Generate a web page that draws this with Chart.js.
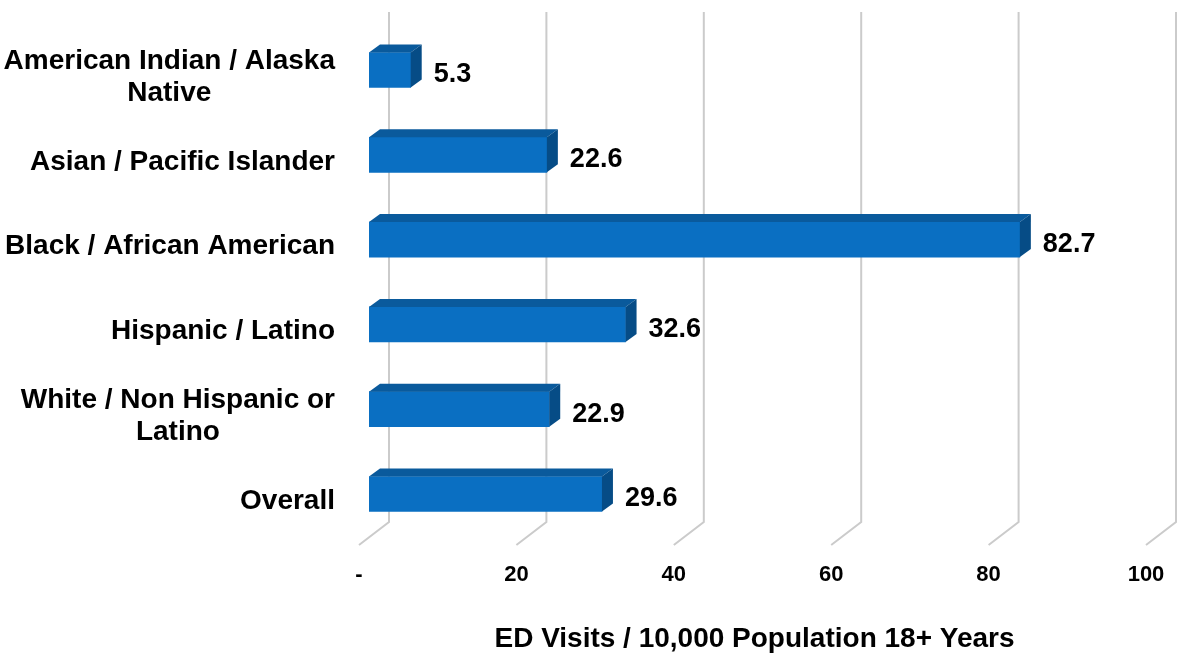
<!DOCTYPE html>
<html>
<head>
<meta charset="utf-8">
<script src="https://cdn.jsdelivr.net/npm/chart.js@4/dist/chart.umd.min.js"></script>
<style>
  html, body { margin: 0; padding: 0; background: #fff; }
  #wrap { width: 1177px; height: 656px; position: relative; }
</style>
</head>
<body>
<div id="wrap"><canvas id="myChart"></canvas></div>
<script>
const categories = [
  ["American Indian / Alaska", "Native"],
  ["Asian / Pacific Islander"],
  ["Black / African American"],
  ["Hispanic / Latino"],
  ["White / Non Hispanic or", "Latino"],
  ["Overall"],
];
const visits = [5.3, 22.6, 82.7, 32.6, 22.9, 29.6];
const xTicks = [0, 20, 40, 60, 80, 100];
const xTitle = "ED Visits / 10,000 Population 18+ Years";

const FONT = "'Liberation Sans', Arial, sans-serif";
const DEPTH_X = 11;
const DEPTH_Y = 8;

// back wall + floor lines, drawn under the bars
const gridPlugin = {
  id: "grid3d",
  beforeDatasetsDraw(chart) {
    const { ctx, scales } = chart;
    ctx.save();
    ctx.strokeStyle = "#cbcbcb";
    ctx.lineWidth = 2;
    xTicks.forEach((v) => {
      const px = scales.x.getPixelForValue(v);
      ctx.beginPath();
      ctx.moveTo(px + 20, 12);
      ctx.lineTo(px + 20, 522);
      ctx.lineTo(px - 10, 545);
      ctx.stroke();
    });
    ctx.restore();
  },
  afterDatasetsDraw(chart) {
    const { ctx } = chart;
    const meta = chart.getDatasetMeta(0);
    ctx.save();
    meta.data.forEach((bar, i) => {
      const { x, y, base, height } = bar.getProps(["x", "y", "base", "height"], true);
      const top = y - height / 2;
      const bottom = y + height / 2;
      // top face
      ctx.fillStyle = "#0a5a9c";
      ctx.beginPath();
      ctx.moveTo(base, top);
      ctx.lineTo(base + DEPTH_X, top - DEPTH_Y);
      ctx.lineTo(x + DEPTH_X, top - DEPTH_Y);
      ctx.lineTo(x, top);
      ctx.closePath();
      ctx.fill();
      // side face
      ctx.fillStyle = "#064c86";
      ctx.beginPath();
      ctx.moveTo(x, top);
      ctx.lineTo(x + DEPTH_X, top - DEPTH_Y);
      ctx.lineTo(x + DEPTH_X, bottom - DEPTH_Y);
      ctx.lineTo(x, bottom);
      ctx.closePath();
      ctx.fill();

      // value label
      ctx.fillStyle = "#000";
      ctx.font = "bold 27px " + FONT;
      ctx.textAlign = "left";
      ctx.textBaseline = "middle";
      ctx.fillText(visits[i].toFixed(1), x + 23, y + 5);
    });

    // category labels: block right-aligned, lines centred inside it
    const yScale = chart.scales.y;
    ctx.font = "bold 28px " + FONT;
    ctx.textAlign = "center";
    ctx.textBaseline = "middle";
    categories.forEach((lines, i) => {
      const cy = yScale.getPixelForValue(i) + 7;
      const w = Math.max(...lines.map((l) => ctx.measureText(l).width));
      const cx = 335 - w / 2;
      const lh = 32;
      lines.forEach((l, k) => {
        ctx.fillText(l, cx, cy + (k - (lines.length - 1) / 2) * lh);
      });
    });

    // axis title, centred under the floor of the plot
    const xs = chart.scales.x;
    ctx.fillText(xTitle, (xs.left + xs.right) / 2 - 8, 639);
    ctx.restore();
  },
};

new Chart(document.getElementById("myChart"), {
  type: "bar",
  data: {
    labels: categories.map((c) => c.join(" ")),
    datasets: [
      {
        data: visits,
        backgroundColor: "#0a6fc2",
        borderWidth: 0,
        barThickness: 35,
      },
    ],
  },
  options: {
    indexAxis: "y",
    responsive: true,
    maintainAspectRatio: false,
    animation: false,
    layout: {
      padding: { left: 369, right: 21, top: 27.6, bottom: 42.4 },
    },
    plugins: {
      legend: { display: false },
      tooltip: { enabled: false },
    },
    scales: {
      x: {
        min: 0,
        max: 100,
        afterBuildTicks: (axis) => {
          axis.ticks = xTicks.map((v) => ({ value: v }));
        },
        afterFit: (axis) => {
          axis.paddingLeft = 0;
          axis.paddingRight = 0;
        },
        grid: { display: false, drawTicks: false },
        border: { display: false },
        ticks: {
          padding: 25.4,
          labelOffset: -10,
          maxRotation: 0,
          autoSkip: false,
          color: "#000",
          font: { family: FONT, size: 22, weight: "bold" },
          callback: (v) => (v === 0 ? "-" : v),
        },
        title: { display: false },
      },
      y: {
        display: false,
        grid: { display: false },
      },
    },
  },
  plugins: [gridPlugin],
});
</script>
</body>
</html>
